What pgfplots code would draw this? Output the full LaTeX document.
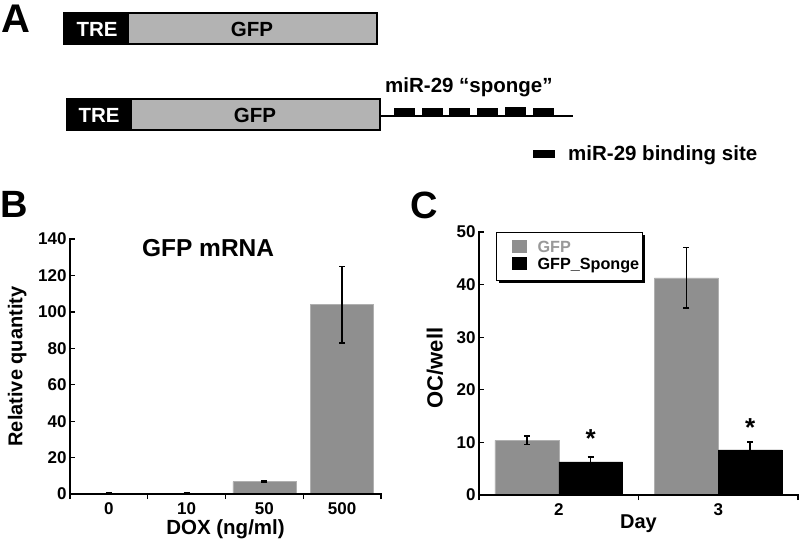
\documentclass[border=0pt]{standalone}
\usepackage{fontspec}
\setmainfont{Liberation Sans}
\usepackage{pgfplots}
\pgfplotsset{compat=1.18}
\usetikzlibrary{shadows}
\definecolor{barGray}{HTML}{8F8F8F}
\definecolor{barEdge}{HTML}{B0B0B0}
\definecolor{boxGray}{HTML}{B3B3B3}
\definecolor{legGray}{HTML}{999999}
\newcommand{\fs}[1]{\fontsize{#1}{#1}\selectfont\bfseries}
\pgfplotsset{
  panel/.style={
    scale only axis,
    axis line style={draw=none},
    xtick pos=left,
    ytick pos=left,
    tick align=inside,
    tick style={black,line width=1.3pt},
    major tick length=5pt,
    minor tick length=5pt,
    major x tick style={draw=none},
    tick label style={font=\fs{17}},
    /pgf/number format/assume math mode=true,
    error bars/error bar style={line width=1.5pt,black},
    error bars/error mark options={rotate=90,mark size=3pt,line width=1.5pt,black},
    clip=false,
  }
}
\newcommand{\leftbottom}{\draw[line width=1.4pt,line cap=rect] (rel axis cs:0,1) -- (rel axis cs:0,0) -- (rel axis cs:1,0);}
\begin{document}
\begin{tikzpicture}
\useasboundingbox (0,0) rectangle (800pt,-542pt);

% A: construct schematic
\begin{scope}[x=1pt,y=-1pt]
  \node[font=\fs{40}] at (16,19) {A};
  \draw[line width=1.2pt,fill=boxGray] (128,13) rectangle (377,44);
  \fill (64,13) rectangle (128,44);
  \draw[line width=1.2pt] (64,13) rectangle (377,44);
  \node[font=\fs{20.5},white] at (97,29) {TRE};
  \node[font=\fs{20.5}] at (252,29) {GFP};

  \draw[line width=2pt] (380,116) -- (573,116);
  \draw[line width=1.2pt,fill=boxGray] (131,99) rectangle (380,130);
  \fill (67,99) rectangle (131,130);
  \draw[line width=1.2pt] (67,99) rectangle (380,130);
  \node[font=\fs{20.5},white] at (99,115) {TRE};
  \node[font=\fs{20.5}] at (255,115) {GFP};
  \fill (394,108) rectangle (415,116);
  \fill (422,108) rectangle (443,116);
  \fill (449,108) rectangle (470,116);
  \fill (477,108) rectangle (498,116);
  \fill (505,107) rectangle (526,116);
  \fill (533,108) rectangle (554,116);
  \node[font=\fs{20.5},anchor=base west,inner sep=0pt] at (385,92) {miR-29 “sponge”};

  \fill (533,150) rectangle (555,158);
  \node[font=\fs{20.5},anchor=base west,inner sep=0pt] at (568,160) {miR-29 binding site};

  \node[font=\fs{38}] at (14,204) {B};
  \node[font=\fs{38}] at (424,205) {C};
\end{scope}

% B: GFP mRNA vs DOX
\begin{axis}[
  panel,
  width=311pt, height=255pt,
  at={(70pt,-494pt)}, anchor=south west,
  xmin=-0.5, xmax=3.5, ymin=0, ymax=140,
  ytick={0,20,...,140},
  xtick={0,1,2,3}, xticklabels={0,10,50,500},
  minor xtick={-0.5,0.5,1.5,2.5,3.5},
  ybar, bar width=0.81,
  ylabel={Relative quantity},
  every axis y label/.style={at={(axis description cs:-0.17,0.5)},rotate=90,anchor=center,font=\fs{20}},
  xlabel={DOX (ng/ml)},
  every axis x label/.style={at={(axis description cs:0.5,-0.14)},anchor=center,font=\fs{20.5}},
]
\addplot[fill=barGray,draw=barEdge,error bars/.cd,y dir=both,y explicit]
  coordinates {(0,0.5) +- (0,0.3) (1,0.3) +- (0,0.2) (2,6.8) +- (0,0.4) (3,104) +- (0,21)};
\leftbottom
\node[font=\fs{24.5}] at (rel axis cs:0.444,0.965) {GFP mRNA};
\end{axis}

% C: OC per well by day
\begin{axis}[
  panel,
  width=319pt, height=263pt,
  at={(479pt,-495pt)}, anchor=south west,
  xmin=1.5, xmax=3.5, ymin=0, ymax=50,
  ytick={0,10,...,50},
  xtick={2,3},
  minor xtick={1.5,2.5,3.5},
  ybar=0pt, bar width=0.4,
  ylabel={OC/well},
  every axis y label/.style={at={(axis description cs:-0.138,0.483)},rotate=90,anchor=center,font=\fs{22}},
  xlabel={Day},
  every axis x label/.style={at={(axis description cs:0.5,-0.11)},anchor=center,font=\fs{20}},
]
\addplot[fill=barGray,draw=barEdge,error bars/.cd,y dir=both,y explicit]
  coordinates {(2,10.4) +- (0,0.8) (3,41.3) +- (0,5.75)};
\addplot[fill=black,draw=black,error bars/.cd,y dir=both,y explicit]
  coordinates {(2,6.3) +- (0,0.9) (3,8.6) +- (0,1.5)};
\leftbottom
\node[font=\fs{26}] at (axis cs:2.2,10.8) {*};
\node[font=\fs{26}] at (axis cs:3.2,12.9) {*};
% legend box
\node[draw=black,line width=1.2pt,fill=white,anchor=north west,
  general shadow={fill=black,shadow xshift=2.5pt,shadow yshift=-2.5pt},
  inner xsep=0pt,inner ysep=7.5pt,
  font=\fs{16.2},align=left,text width=146pt]
  at (rel axis cs:0.053,1)
  {\hspace*{15pt}\textcolor{barGray}{\rule[-1pt]{15pt}{13pt}}\hspace{11pt}\textcolor{legGray}{GFP}\\[1pt]
   \hspace*{15pt}\rule[-1pt]{15pt}{13pt}\hspace{11pt}GFP\_Sponge};
\end{axis}
\end{tikzpicture}
\end{document}
